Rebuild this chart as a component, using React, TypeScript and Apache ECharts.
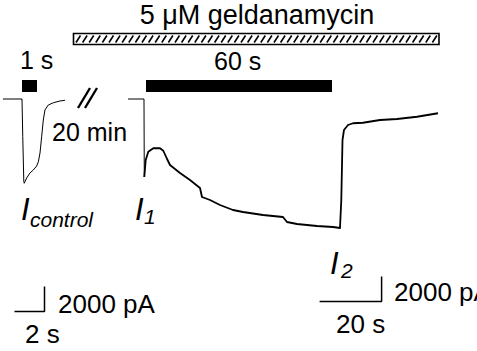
import React, { useEffect, useRef } from "react";
import * as echarts from "echarts";

// Control response (time in s from pulse onset, current in pA)
const controlTime = [-1.27, 0, 0.05, 0.12, 0.15, 0.31, 0.53, 0.75, 0.98, 1.09, 1.2, 1.31, 1.42, 1.53, 1.75, 2.09, 2.53, 2.87];
const controlCurrent = [0, 0, -3000, -6600, -6740, -6320, -5920, -5680, -5360, -5020, -4320, -3020, -1680, -880, -480, -300, -160, -100];

// Response during 60 s geldanamycin application
const mainTime = [-5.8, -0.65, -0.55, -0.1, 0.74, 2.35, 4.52, 5.58, 6.68, 7.74, 10.97, 14.19, 17.42, 18.06, 20.65, 23.87, 28.06, 31.29, 37.74, 44.19, 45.48, 48.71, 55.16, 60.32, 62.58, 63.0, 63.39, 63.87, 65.16, 66.77, 70.0, 75.48, 80.97, 87.42, 94.19];
const mainCurrent = [0, 0, -6240, -4880, -4220, -3940, -3940, -4140, -4740, -5280, -5920, -6480, -7120, -7840, -8080, -8480, -8880, -9040, -9280, -9440, -9840, -10000, -10160, -10240, -10320, -8080, -3280, -2480, -2080, -1940, -1900, -1680, -1600, -1420, -1140];

// Stimulus bars (s) and their level (pA)
const controlPulse = [0, 1];
const drugPulse = [0, 60];
const pulseLevel = [1040];

// Scale bars
const controlScaleTime = [-0.5, 1.5]; // 2 s
const controlScaleCurrent = [-17000, -15000]; // 2000 pA
const mainScaleTime = [56, 76]; // 20 s
const mainScaleCurrent = [-16200, -14200]; // 2000 pA

const FONT = "'Liberation Sans', Arial, sans-serif";

function zip(t: number[], v: number[]) {
  return t.map((x, i) => [x, v[i]]);
}

function txt(text: string, x: number, y: number, size: number, opts: any = {}) {
  return {
    type: "text",
    x,
    y,
    silent: true,
    style: {
      text,
      fontSize: size,
      fontFamily: FONT,
      fontStyle: opts.italic ? "italic" : "normal",
      fill: "#000",
      align: opts.align || "left",
      verticalAlign: "middle",
      textAlign: opts.align || "left",
      textVerticalAlign: "middle",
    },
  };
}

export default function App() {
  const ref = useRef<HTMLDivElement>(null);
  useEffect(() => {
    if (!ref.current) return;
    const chart = echarts.init(ref.current, null, { renderer: "svg" });

    const hatch: any[] = [];
    for (let x = 76; x < 436; x += 6.6) {
      hatch.push({
        type: "line",
        silent: true,
        shape: { x1: x, y1: 42.5, x2: x + 4.5, y2: 35.5 },
        style: { stroke: "#000", lineWidth: 1.6 },
      });
    }

    const lineStyle = (w: number) => ({ color: "#000", width: w, cap: "butt" });

    const option: any = {
      animation: false,
      backgroundColor: "#fff",
      grid: [
        { left: 1, top: 79, width: 81, height: 240 },
        { left: 127.4, top: 79, width: 316.2, height: 240 },
      ],
      xAxis: [
        { type: "value", gridIndex: 0, min: -1.4, max: 4.0, show: false },
        { type: "value", gridIndex: 1, min: -6, max: 96, show: false },
      ],
      yAxis: [
        { type: "value", gridIndex: 0, min: -17600, max: 1600, show: false },
        { type: "value", gridIndex: 1, min: -17600, max: 1600, show: false },
      ],
      series: [
        {
          type: "line", xAxisIndex: 0, yAxisIndex: 0, symbol: "none", silent: true, clip: false,
          data: zip(controlTime, controlCurrent), lineStyle: lineStyle(1),
        },
        {
          type: "line", xAxisIndex: 1, yAxisIndex: 1, symbol: "none", silent: true, clip: false,
          data: zip(mainTime, mainCurrent).slice(0, 3), lineStyle: lineStyle(1),
        },
        {
          type: "line", xAxisIndex: 1, yAxisIndex: 1, symbol: "none", silent: true, clip: false,
          data: zip(mainTime, mainCurrent).slice(2), lineStyle: { color: "#000", width: 1.8, join: "round" },
        },
        {
          type: "line", xAxisIndex: 0, yAxisIndex: 0, symbol: "none", silent: true, clip: false,
          data: controlPulse.map((t) => [t, pulseLevel[0]]), lineStyle: lineStyle(12),
        },
        {
          type: "line", xAxisIndex: 1, yAxisIndex: 1, symbol: "none", silent: true, clip: false,
          data: drugPulse.map((t) => [t, pulseLevel[0]]), lineStyle: lineStyle(12),
        },
        {
          type: "line", xAxisIndex: 0, yAxisIndex: 0, symbol: "none", silent: true, clip: false,
          data: [
            [controlScaleTime[0], controlScaleCurrent[0]],
            [controlScaleTime[1], controlScaleCurrent[0]],
            [controlScaleTime[1], controlScaleCurrent[1]],
          ],
          lineStyle: lineStyle(1.5),
        },
        {
          type: "line", xAxisIndex: 1, yAxisIndex: 1, symbol: "none", silent: true, clip: false,
          data: [
            [mainScaleTime[0], mainScaleCurrent[0]],
            [mainScaleTime[1], mainScaleCurrent[0]],
            [mainScaleTime[1], mainScaleCurrent[1]],
          ],
          lineStyle: lineStyle(1.5),
        },
      ],
      graphic: [
        {
          type: "rect", silent: true,
          shape: { x: 73.5, y: 33.5, width: 365.5, height: 11 },
          style: { fill: "#fff", stroke: "#000", lineWidth: 1.6 },
        },
        ...hatch,
        txt("5 \u03BCM geldanamycin", 257, 14.5, 27, { align: "center" }),
        txt("1 s", 20, 60, 25),
        txt("60 s", 214, 61, 25),
        txt("20 min", 52, 132, 25),
        {
          type: "line", silent: true,
          shape: { x1: 78, y1: 108, x2: 90, y2: 88 },
          style: { stroke: "#000", lineWidth: 2.4 },
        },
        {
          type: "line", silent: true,
          shape: { x1: 85, y1: 108, x2: 97, y2: 88 },
          style: { stroke: "#000", lineWidth: 2.4 },
        },
        txt("I", 21, 209, 31, { italic: true }),
        txt("control", 30, 219, 21, { italic: true }),
        txt("I", 135, 209, 31, { italic: true }),
        txt("1", 144, 216, 21, { italic: true }),
        txt("I", 330, 263, 31, { italic: true }),
        txt("2", 341, 270, 21, { italic: true }),
        txt("2000 pA", 58, 304, 26),
        txt("2 s", 25, 334, 26),
        txt("2000 pA", 394, 292, 26),
        txt("20 s", 336, 324, 26),
      ],
    };
    chart.setOption(option);
    return () => chart.dispose();
  }, []);
  return (
    <div
      ref={ref}
      style={{ position: "fixed", left: 0, top: 0, width: 477, height: 351, background: "#fff" }}
    />
  );
}
